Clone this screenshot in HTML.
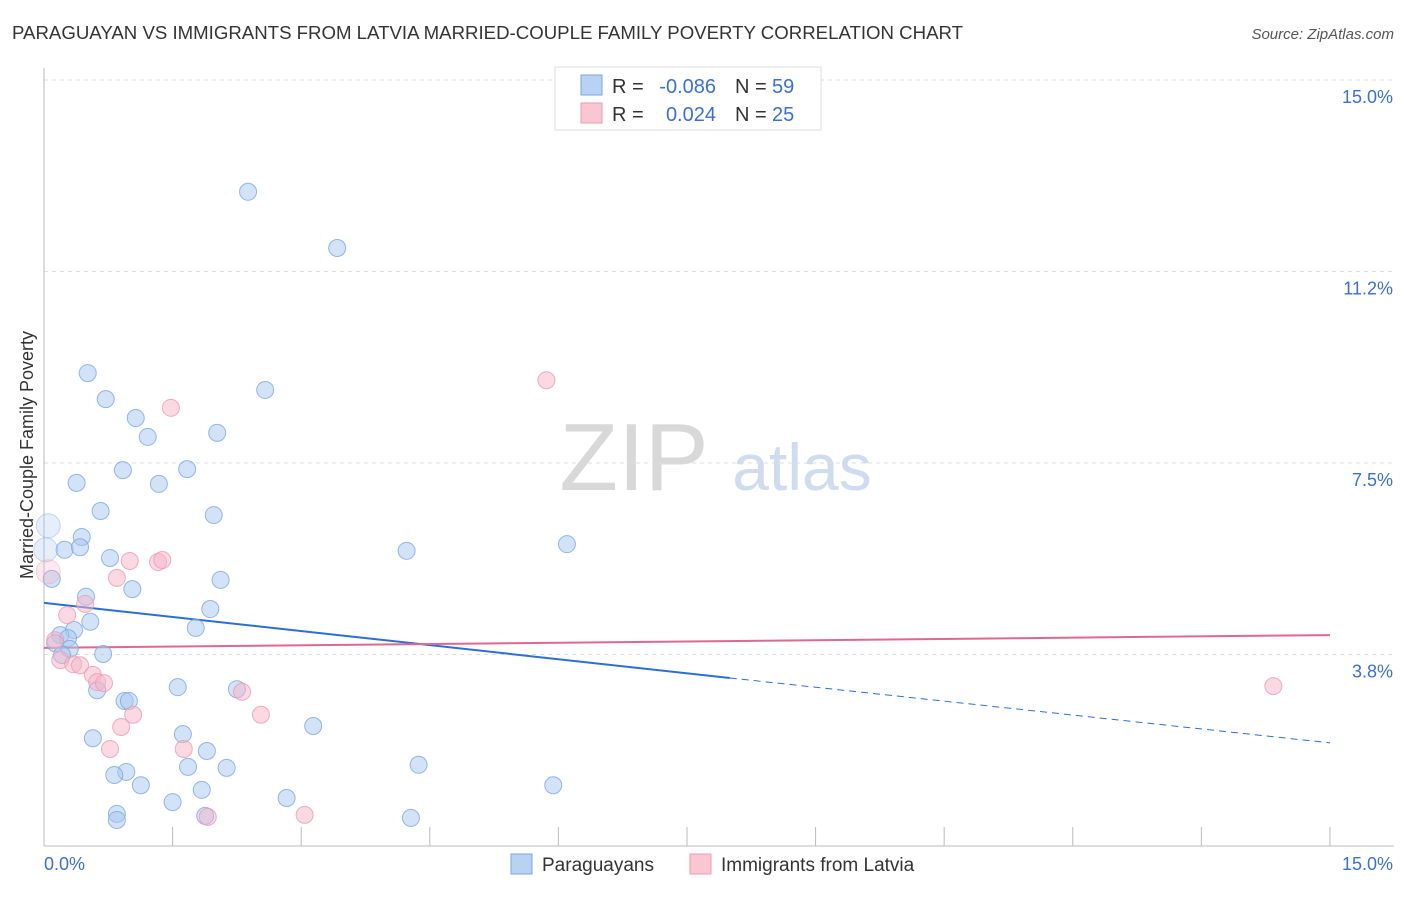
<!DOCTYPE html>
<html><head><meta charset="utf-8"><style>
body{margin:0;background:#fff;font-family:"Liberation Sans",sans-serif;}
svg text{font-family:"Liberation Sans",sans-serif;}
</style></head><body>
<svg id="chart" width="1406" height="892" xmlns="http://www.w3.org/2000/svg">
<text x="12" y="39" font-size="18" fill="#333" textLength="951" lengthAdjust="spacingAndGlyphs">PARAGUAYAN VS IMMIGRANTS FROM LATVIA MARRIED-COUPLE FAMILY POVERTY CORRELATION CHART</text>
<text x="1394" y="39" font-size="15" fill="#555" font-style="italic" text-anchor="end">Source: ZipAtlas.com</text>
<text x="33" y="455" font-size="18" fill="#333" text-anchor="middle" transform="rotate(-90 33 455)">Married-Couple Family Poverty</text>
<g><text x="634" y="490" font-size="96" fill="#d8d8d8" font-family="Liberation Serif" text-anchor="middle">ZIP</text><text x="802" y="490" font-size="66" fill="#cfdcef" text-anchor="middle">atlas</text></g>
<g id="grid"></g><g id="axes"></g><g id="lines"></g><g id="points"></g>
<g>
<rect x="555" y="67" width="266" height="63" fill="#fff" stroke="#ddd"/>
<rect x="581" y="75" width="21" height="20" fill="#b8d2f4" stroke="#7aa6de"/>
<rect x="581" y="103" width="21" height="20" fill="#f9c6d4" stroke="#ec9ab2"/>
<text x="612" y="93" font-size="20" fill="#333">R =</text>
<text x="716" y="93" font-size="20" fill="#3a70d0" text-anchor="end">-0.086</text>
<text x="735" y="93" font-size="20" fill="#333">N =</text>
<text x="772" y="93" font-size="20" fill="#3a70d0">59</text>
<text x="612" y="121" font-size="20" fill="#333">R =</text>
<text x="716" y="121" font-size="20" fill="#3a70d0" text-anchor="end">0.024</text>
<text x="735" y="121" font-size="20" fill="#333">N =</text>
<text x="772" y="121" font-size="20" fill="#3a70d0">25</text>
</g>
<g>
<rect x="511" y="854" width="21" height="20" fill="#b8d2f4" stroke="#7aa6de"/>
<text x="542" y="871" font-size="19" fill="#333">Paraguayans</text>
<rect x="690" y="854" width="21" height="20" fill="#f9c6d4" stroke="#ec9ab2"/>
<text x="721" y="871" font-size="19" fill="#333">Immigrants from Latvia</text>
</g>
</svg>
<script>
const yTickLabels=["3.8%","7.5%","11.2%","15.0%"];
const yTickVals=[3.75,7.5,11.25,15.0];
const xTickLabels=["0.0%","15.0%"];
const blueX=[2.38,3.42,0.51,2.58,0.72,1.07,1.21,2.02,0.92,1.67,0.38,1.34,0.66,1.98,0.05,0.44,0.24,0.42,0.77,4.23,6.10,0.09,2.06,1.03,0.49,1.94,0.54,1.77,0.35,0.19,0.28,0.13,0.30,0.21,0.69,1.56,0.62,0.94,0.99,2.25,0.57,3.14,1.62,1.90,1.68,2.13,4.37,0.96,0.82,1.13,5.94,1.50,1.84,2.83,0.85,0.85,1.88,4.28,0.02];
const blueY=[12.81,11.71,9.26,8.93,8.75,8.38,8.01,8.09,7.36,7.38,7.11,7.09,6.56,6.48,6.27,6.05,5.80,5.85,5.64,5.78,5.91,5.23,5.21,5.03,4.88,4.64,4.39,4.27,4.23,4.13,4.07,3.97,3.86,3.74,3.76,3.11,3.05,2.84,2.84,3.07,2.11,2.35,2.19,1.86,1.55,1.53,1.59,1.45,1.39,1.19,1.19,0.86,1.10,0.94,0.63,0.51,0.59,0.55,5.80];
const pinkX=[5.86,1.48,0.05,0.85,1.00,1.33,1.38,0.48,0.27,0.13,0.19,0.34,0.42,0.57,0.62,0.70,2.31,1.04,2.53,0.90,0.77,1.63,1.91,3.04,14.34];
const pinkY=[9.12,8.58,5.37,5.25,5.58,5.56,5.60,4.74,4.52,4.03,3.64,3.56,3.54,3.35,3.21,3.19,3.02,2.57,2.57,2.33,1.90,1.90,0.57,0.61,3.13];
const blueTrend=[4.76,3.29,2.02];
const blueTrendX=[0,8,15];
const pinkTrend=[3.88,4.13];
const pinkTrendX=[0,15];
const NS="http://www.w3.org/2000/svg";
const X=v=>44+v*85.73, Y=v=>846-v*51.07;
function mk(t,a,p){const e=document.createElementNS(NS,t);for(const k in a)e.setAttribute(k,a[k]);document.getElementById(p).appendChild(e);return e;}
yTickVals.forEach((v,i)=>{
 let l=mk('line',{x1:44,x2:1394,y1:Y(v),y2:Y(v),stroke:'#ddd','stroke-dasharray':'4,4'},'grid');
 
 
 let t=mk('text',{x:1393,y:Y(v)+23,'font-size':18,fill:'#3a70d0','text-anchor':'end'},'axes');t.textContent=yTickLabels[i];
 
 
});
let ax=mk('line',{x1:44,x2:1394,y1:846,y2:846,stroke:'#bbb'},'axes');


let ay=mk('line',{x1:44,x2:44,y1:68,y2:846,stroke:'#bbb'},'axes');


for(let i=0;i<=10;i++){let tk=mk('line',{x1:X(i*1.5),x2:X(i*1.5),y1:827,y2:846,stroke:'#bbb'},'axes');
 
 }
[[0,'start',44],[15,'end',1393]].forEach((d,i)=>{let t=mk('text',{x:d[2],y:870,'font-size':18,fill:'#3a70d0','text-anchor':d[1]},'axes');t.textContent=xTickLabels[i];
 
 });
function pts(xs,ys,fill,stroke,name){xs.forEach((x,i)=>{const big=(name==='pink-point'&&i===2)||(name==='blue-point'&&(i===14||i===58));
 const c=mk('circle',{cx:X(x),cy:Y(ys[i]),r:big?12:8.5,fill:fill,'fill-opacity':big?0.3:0.5,stroke:stroke,'stroke-opacity':big?0.4:0.8,'stroke-width':1},'points');
 
 });}
pts(blueX,blueY,'#a8c8f0','#7aa6de','blue-point');
pts(pinkX,pinkY,'#f6b4c8','#ec9ab2','pink-point');
let b1=mk('line',{x1:X(blueTrendX[0]),y1:Y(blueTrend[0]),x2:X(blueTrendX[1]),y2:Y(blueTrend[1]),stroke:'#2a6fd6','stroke-width':2},'lines');


let b2=mk('line',{x1:X(blueTrendX[1]),y1:Y(blueTrend[1]),x2:X(blueTrendX[2]),y2:Y(blueTrend[2]),stroke:'#2a6fd6','stroke-width':1,'stroke-dasharray':'7,5'},'lines');


let p1=mk('line',{x1:X(pinkTrendX[0]),y1:Y(pinkTrend[0]),x2:X(pinkTrendX[1]),y2:Y(pinkTrend[1]),stroke:'#e06890','stroke-width':2},'lines');


</script>
</body></html>
